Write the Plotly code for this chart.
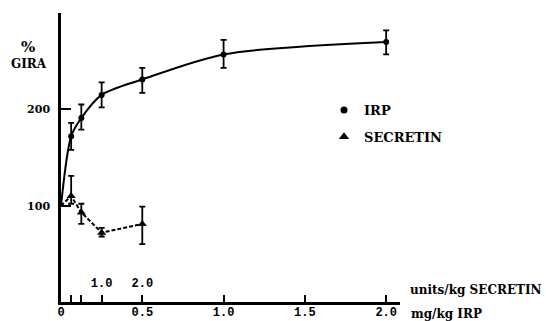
import plotly.graph_objects as go

# IRP (mg/kg)
irp_dose = [0.0625, 0.125, 0.25, 0.5, 1.0, 2.0]
irp_gira = [172, 191, 215, 231, 257, 270]
irp_err_plus = [14, 14, 13, 12, 15, 12]
irp_err_minus = [14, 12, 13, 14, 14, 13]

# SECRETIN (units/kg)
sec_dose = [0.25, 0.5, 1.0, 2.0]
sec_gira = [110, 93, 72, 81]
sec_err_plus = [21, 9, 5, 18]
sec_err_minus = [8, 12, 4, 21]

# common baseline at zero dose
base_dose = 0
base_gira = 100

x_ticks = [0, 0.5, 1.0, 1.5, 2.0]
x_ticktext = ["0", "0.5", "1.0", "1.5", "2.0"]
sec_ticks = [0.25, 0.5, 1.0, 2.0]
sec_ticktext = ["", "", "1.0", "2.0"]
y_ticks = [100, 200, 300]
y_ticktext = ["100", "200", ""]

SERIF = "DejaVu Serif, Liberation Serif, serif"
MONO = "Liberation Mono, monospace"

L, R, T, B = 61, 146, 13, 19
W, H = 546, 321
pw, ph = W - L - R, H - T - B
XMAX = 2.085
SEC_PER_MG = 4.0


def px(xp):
    return (xp - L) / pw


def py(yp):
    return (H - B - yp) / ph


fig = go.Figure()

# IRP fitted curve
fig.add_trace(go.Scatter(
    x=[base_dose] + irp_dose, y=[base_gira] + irp_gira,
    mode="lines", line=dict(color="black", width=2, shape="spline", smoothing=0.8),
    showlegend=False, hoverinfo="skip"))
fig.add_trace(go.Scatter(
    x=irp_dose, y=irp_gira, mode="markers",
    marker=dict(symbol="circle", size=6, color="black"),
    error_y=dict(type="data", array=irp_err_plus, arrayminus=irp_err_minus,
                 color="black", thickness=1.8, width=3),
    showlegend=False))

# SECRETIN dashed line on secondary axis
fig.add_trace(go.Scatter(
    x=[base_dose] + sec_dose, y=[base_gira] + sec_gira, xaxis="x2",
    mode="lines", line=dict(color="black", width=2, dash="4px,2px"),
    showlegend=False, hoverinfo="skip"))
fig.add_trace(go.Scatter(
    x=sec_dose, y=sec_gira, xaxis="x2", mode="markers",
    marker=dict(symbol="triangle-up", size=8, color="black"),
    error_y=dict(type="data", array=sec_err_plus, arrayminus=sec_err_minus,
                 color="black", thickness=1.8, width=3),
    showlegend=False))

# legend entries
fig.add_trace(go.Scatter(x=[None], y=[None], mode="markers", name="IRP",
                         legendgroup="irp",
                         marker=dict(symbol="circle", size=7, color="black")))
fig.add_trace(go.Scatter(x=[None], y=[None], mode="markers", name="SECRETIN",
                         legendgroup="sec",
                         marker=dict(symbol="triangle-up", size=9, color="black")))

fig.update_layout(
    template="none",
    width=W, height=H,
    margin=dict(l=L, r=R, t=T, b=B, autoexpand=False),
    paper_bgcolor="white", plot_bgcolor="white",
    font=dict(family=SERIF, color="black"),
    xaxis=dict(range=[0, XMAX], tickvals=x_ticks, ticktext=x_ticktext,
               ticks="inside", ticklen=7, tickwidth=1.5, tickcolor="black",
               showline=True, linewidth=2.5, linecolor="black",
               showgrid=False, zeroline=False, automargin=False,
               tickfont=dict(family=MONO, size=12, color="black", weight="bold"),
               ticklabelstandoff=-3),
    xaxis2=dict(range=[0, XMAX * SEC_PER_MG], overlaying="x", anchor="y", side="bottom",
                tickvals=sec_ticks, ticktext=sec_ticktext,
                ticks="inside", ticklen=7, tickwidth=1.5, tickcolor="black",
                ticklabelposition="inside", showline=False,
                showgrid=False, zeroline=False, automargin=False,
                tickfont=dict(family=MONO, size=12, color="black", weight="bold"),
                ticklabelstandoff=5),
    yaxis=dict(range=[0, 300], tickvals=y_ticks, ticktext=y_ticktext,
               ticks="inside", ticklen=10, tickwidth=1.5, tickcolor="black",
               showline=True, linewidth=2.5, linecolor="black",
               showgrid=False, zeroline=False, automargin=False,
               tickfont=dict(family=SERIF, size=11, color="black", weight="bold"),
               ticklabelstandoff=6),
    legend=dict(x=px(324), y=py(95), xanchor="left", yanchor="top",
                bgcolor="rgba(0,0,0,0)", traceorder="grouped", tracegroupgap=7,
                font=dict(family=SERIF, size=13, color="black", weight="bold"),
                itemwidth=30),
    showlegend=True,
    annotations=[
        dict(text="<b>%</b>", x=px(28), y=py(47), xref="paper", yref="paper",
             xanchor="center", yanchor="middle",
             showarrow=False, font=dict(family=SERIF, size=15, color="black")),
        dict(text="<b>GIRA</b>", x=px(29), y=py(64), xref="paper", yref="paper",
             xanchor="center", yanchor="middle",
             showarrow=False, font=dict(family=SERIF, size=12, color="black")),
        dict(text="<b>units/kg SECRETIN</b>", x=px(408), y=py(290), xref="paper", yref="paper",
             xanchor="left", yanchor="middle", showarrow=False,
             font=dict(family=SERIF, size=12, color="black")),
        dict(text="<b>mg/kg IRP</b>", x=px(409), y=py(314), xref="paper", yref="paper",
             xanchor="left", yanchor="middle", showarrow=False,
             font=dict(family=SERIF, size=12, color="black")),
    ],
)

fig.write_html("out.html")
